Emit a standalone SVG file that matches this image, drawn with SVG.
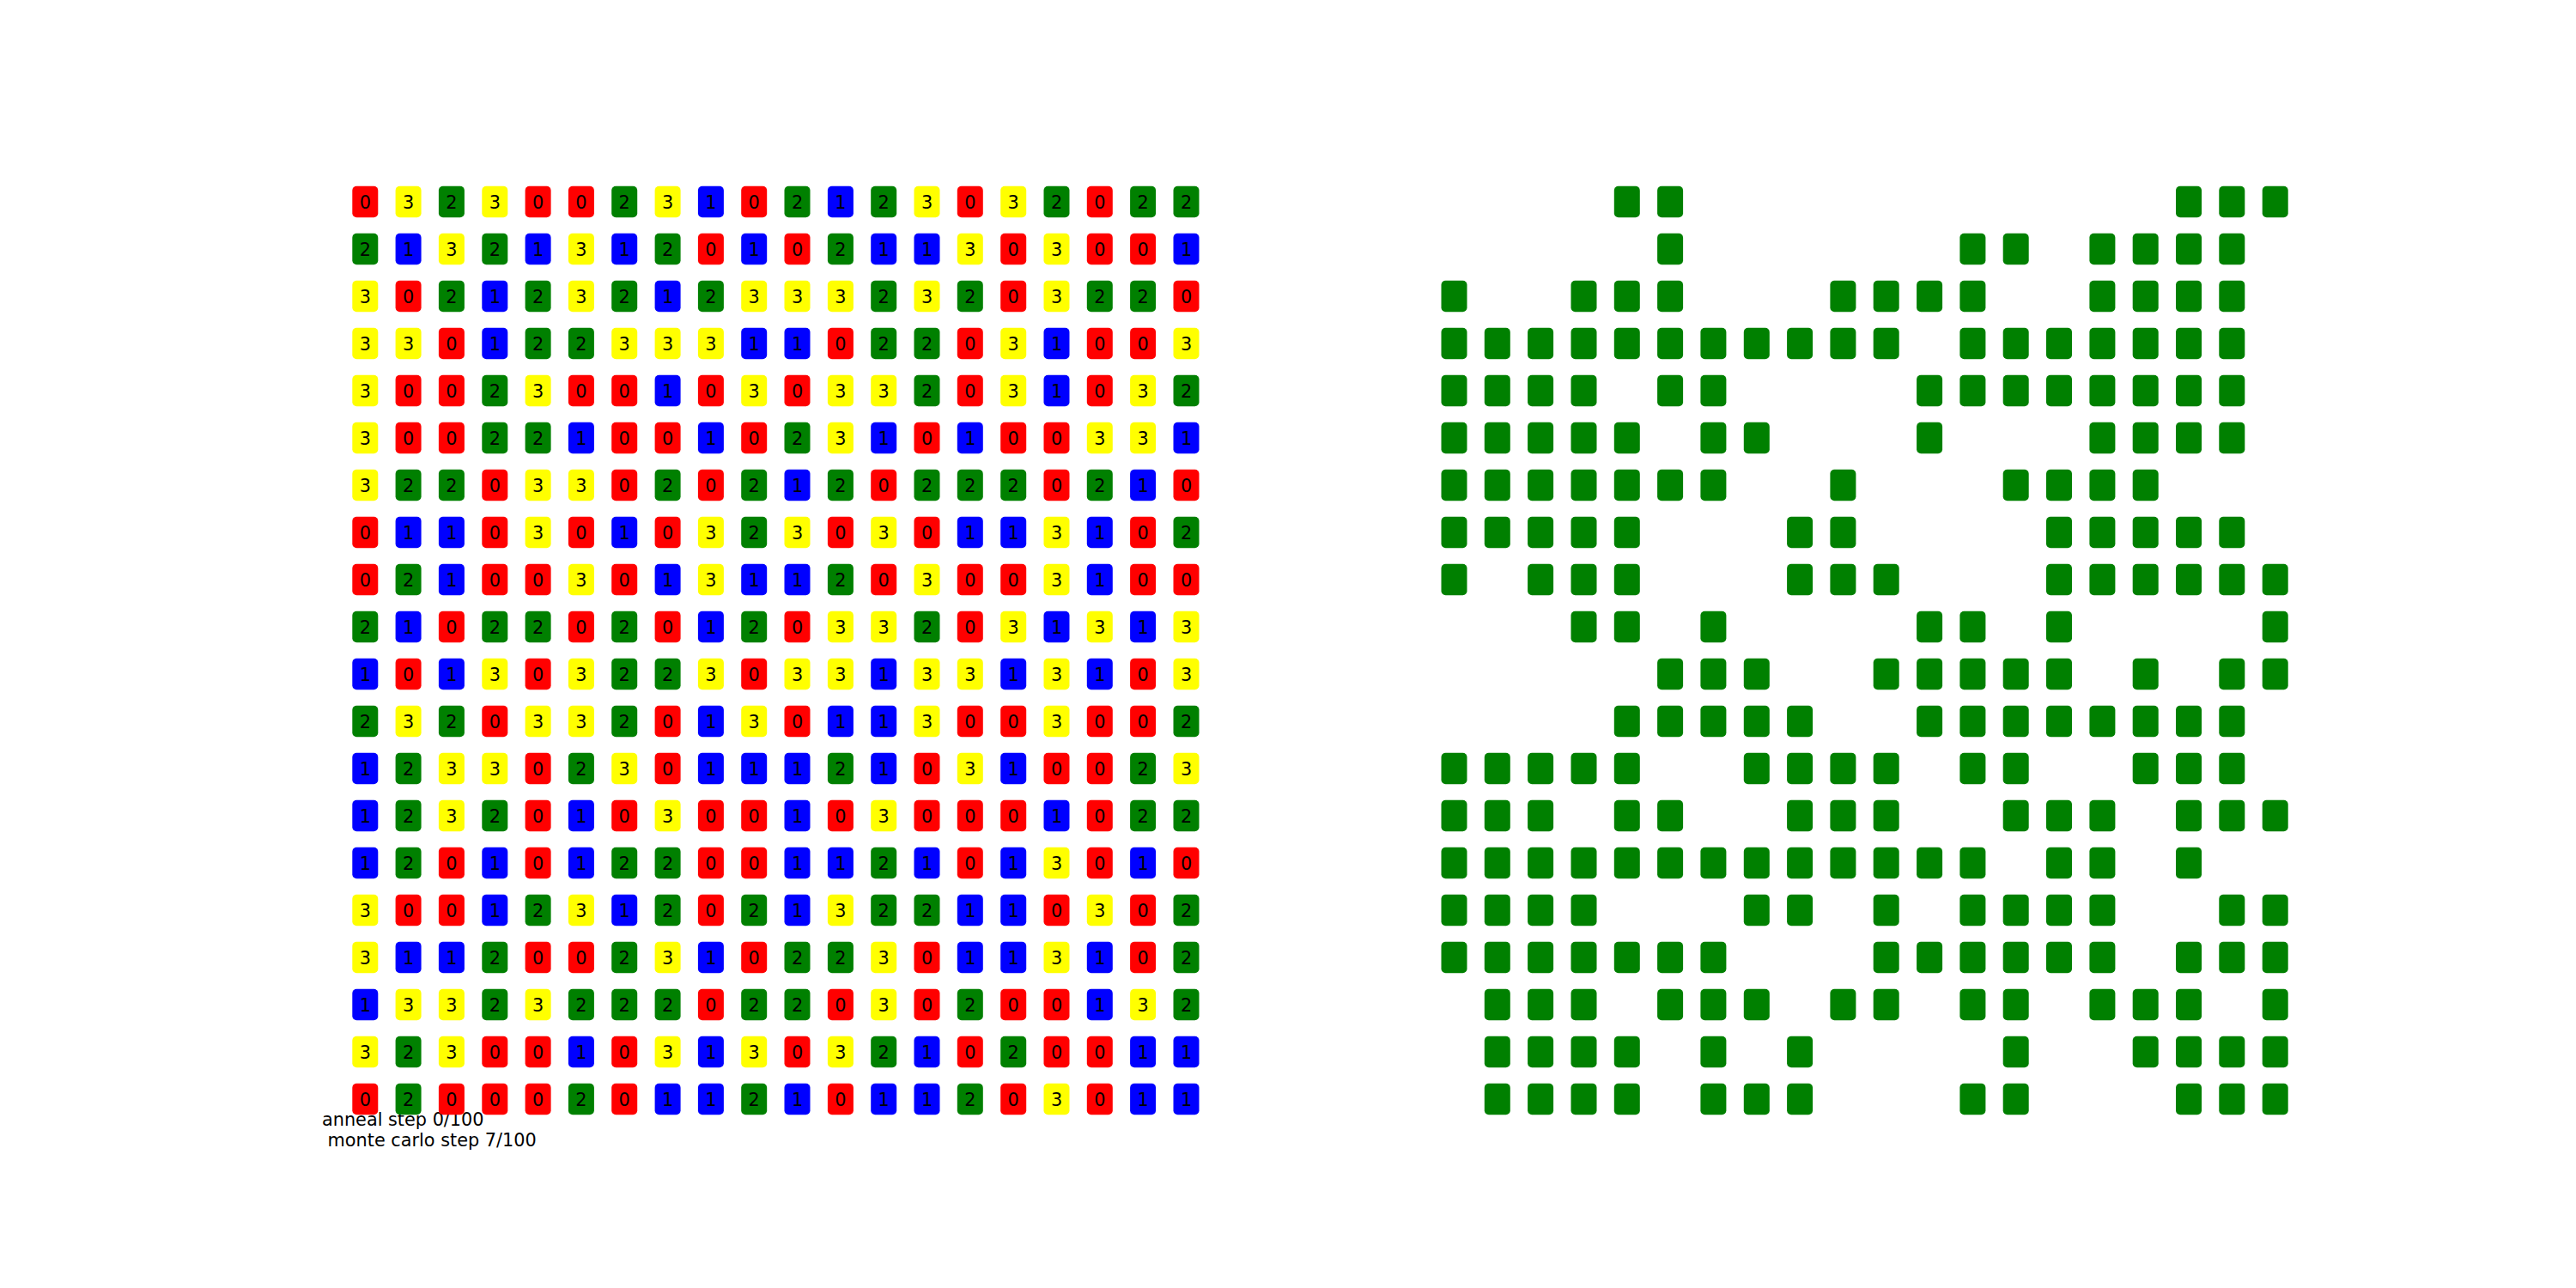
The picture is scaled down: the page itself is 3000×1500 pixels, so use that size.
<svg xmlns="http://www.w3.org/2000/svg" xmlns:xlink="http://www.w3.org/1999/xlink" width="3000" height="1500" viewBox="0 0 3000 1500">
<style>
.v0{fill:#ff0000}.v1{fill:#0000ff}.v2{fill:#008000}.v3{fill:#ffff00}
text{font-family:"DejaVu Sans","Liberation Sans",sans-serif;font-size:20.8px;fill:#000}
.cell text{text-anchor:middle}
</style>
<defs>
<rect id="k0" class="v0" x="-15" y="-18.25" width="30" height="36.5" rx="5"/>
<rect id="k1" class="v1" x="-15" y="-18.25" width="30" height="36.5" rx="5"/>
<rect id="k2" class="v2" x="-15" y="-18.25" width="30" height="36.5" rx="5"/>
<rect id="k3" class="v3" x="-15" y="-18.25" width="30" height="36.5" rx="5"/>
</defs>
<rect width="3000" height="1500" fill="#fff"/>
<g id="caption">
<text x="375" y="1311">anneal step 0/100</text>
<text x="381.6" y="1335">monte carlo step 7/100</text>
</g>
<g id="connectors"></g>
<g id="left" class="cell">
<g id="L0" transform="translate(0 235)">
<g id="a0-0" transform="translate(425.3 0)"><use href="#k0"/><text y="7.6">0</text></g>
<g id="a0-1" transform="translate(475.6 0)"><use href="#k3"/><text y="7.6">3</text></g>
<g id="a0-2" transform="translate(525.9 0)"><use href="#k2"/><text y="7.6">2</text></g>
<g id="a0-3" transform="translate(576.3 0)"><use href="#k3"/><text y="7.6">3</text></g>
<g id="a0-4" transform="translate(626.6 0)"><use href="#k0"/><text y="7.6">0</text></g>
<g id="a0-5" transform="translate(676.9 0)"><use href="#k0"/><text y="7.6">0</text></g>
<g id="a0-6" transform="translate(727.2 0)"><use href="#k2"/><text y="7.6">2</text></g>
<g id="a0-7" transform="translate(777.6 0)"><use href="#k3"/><text y="7.6">3</text></g>
<g id="a0-8" transform="translate(827.9 0)"><use href="#k1"/><text y="7.6">1</text></g>
<g id="a0-9" transform="translate(878.2 0)"><use href="#k0"/><text y="7.6">0</text></g>
<g id="a0-10" transform="translate(928.5 0)"><use href="#k2"/><text y="7.6">2</text></g>
<g id="a0-11" transform="translate(978.9 0)"><use href="#k1"/><text y="7.6">1</text></g>
<g id="a0-12" transform="translate(1029.2 0)"><use href="#k2"/><text y="7.6">2</text></g>
<g id="a0-13" transform="translate(1079.5 0)"><use href="#k3"/><text y="7.6">3</text></g>
<g id="a0-14" transform="translate(1129.8 0)"><use href="#k0"/><text y="7.6">0</text></g>
<g id="a0-15" transform="translate(1180.2 0)"><use href="#k3"/><text y="7.6">3</text></g>
<g id="a0-16" transform="translate(1230.5 0)"><use href="#k2"/><text y="7.6">2</text></g>
<g id="a0-17" transform="translate(1280.8 0)"><use href="#k0"/><text y="7.6">0</text></g>
<g id="a0-18" transform="translate(1331.1 0)"><use href="#k2"/><text y="7.6">2</text></g>
<g id="a0-19" transform="translate(1381.5 0)"><use href="#k2"/><text y="7.6">2</text></g>
</g>
<g id="L1" transform="translate(0 290)">
<g id="a1-0" transform="translate(425.3 0)"><use href="#k2"/><text y="7.6">2</text></g>
<g id="a1-1" transform="translate(475.6 0)"><use href="#k1"/><text y="7.6">1</text></g>
<g id="a1-2" transform="translate(525.9 0)"><use href="#k3"/><text y="7.6">3</text></g>
<g id="a1-3" transform="translate(576.3 0)"><use href="#k2"/><text y="7.6">2</text></g>
<g id="a1-4" transform="translate(626.6 0)"><use href="#k1"/><text y="7.6">1</text></g>
<g id="a1-5" transform="translate(676.9 0)"><use href="#k3"/><text y="7.6">3</text></g>
<g id="a1-6" transform="translate(727.2 0)"><use href="#k1"/><text y="7.6">1</text></g>
<g id="a1-7" transform="translate(777.6 0)"><use href="#k2"/><text y="7.6">2</text></g>
<g id="a1-8" transform="translate(827.9 0)"><use href="#k0"/><text y="7.6">0</text></g>
<g id="a1-9" transform="translate(878.2 0)"><use href="#k1"/><text y="7.6">1</text></g>
<g id="a1-10" transform="translate(928.5 0)"><use href="#k0"/><text y="7.6">0</text></g>
<g id="a1-11" transform="translate(978.9 0)"><use href="#k2"/><text y="7.6">2</text></g>
<g id="a1-12" transform="translate(1029.2 0)"><use href="#k1"/><text y="7.6">1</text></g>
<g id="a1-13" transform="translate(1079.5 0)"><use href="#k1"/><text y="7.6">1</text></g>
<g id="a1-14" transform="translate(1129.8 0)"><use href="#k3"/><text y="7.6">3</text></g>
<g id="a1-15" transform="translate(1180.2 0)"><use href="#k0"/><text y="7.6">0</text></g>
<g id="a1-16" transform="translate(1230.5 0)"><use href="#k3"/><text y="7.6">3</text></g>
<g id="a1-17" transform="translate(1280.8 0)"><use href="#k0"/><text y="7.6">0</text></g>
<g id="a1-18" transform="translate(1331.1 0)"><use href="#k0"/><text y="7.6">0</text></g>
<g id="a1-19" transform="translate(1381.5 0)"><use href="#k1"/><text y="7.6">1</text></g>
</g>
<g id="L2" transform="translate(0 345)">
<g id="a2-0" transform="translate(425.3 0)"><use href="#k3"/><text y="7.6">3</text></g>
<g id="a2-1" transform="translate(475.6 0)"><use href="#k0"/><text y="7.6">0</text></g>
<g id="a2-2" transform="translate(525.9 0)"><use href="#k2"/><text y="7.6">2</text></g>
<g id="a2-3" transform="translate(576.3 0)"><use href="#k1"/><text y="7.6">1</text></g>
<g id="a2-4" transform="translate(626.6 0)"><use href="#k2"/><text y="7.6">2</text></g>
<g id="a2-5" transform="translate(676.9 0)"><use href="#k3"/><text y="7.6">3</text></g>
<g id="a2-6" transform="translate(727.2 0)"><use href="#k2"/><text y="7.6">2</text></g>
<g id="a2-7" transform="translate(777.6 0)"><use href="#k1"/><text y="7.6">1</text></g>
<g id="a2-8" transform="translate(827.9 0)"><use href="#k2"/><text y="7.6">2</text></g>
<g id="a2-9" transform="translate(878.2 0)"><use href="#k3"/><text y="7.6">3</text></g>
<g id="a2-10" transform="translate(928.5 0)"><use href="#k3"/><text y="7.6">3</text></g>
<g id="a2-11" transform="translate(978.9 0)"><use href="#k3"/><text y="7.6">3</text></g>
<g id="a2-12" transform="translate(1029.2 0)"><use href="#k2"/><text y="7.6">2</text></g>
<g id="a2-13" transform="translate(1079.5 0)"><use href="#k3"/><text y="7.6">3</text></g>
<g id="a2-14" transform="translate(1129.8 0)"><use href="#k2"/><text y="7.6">2</text></g>
<g id="a2-15" transform="translate(1180.2 0)"><use href="#k0"/><text y="7.6">0</text></g>
<g id="a2-16" transform="translate(1230.5 0)"><use href="#k3"/><text y="7.6">3</text></g>
<g id="a2-17" transform="translate(1280.8 0)"><use href="#k2"/><text y="7.6">2</text></g>
<g id="a2-18" transform="translate(1331.1 0)"><use href="#k2"/><text y="7.6">2</text></g>
<g id="a2-19" transform="translate(1381.5 0)"><use href="#k0"/><text y="7.6">0</text></g>
</g>
<g id="L3" transform="translate(0 400)">
<g id="a3-0" transform="translate(425.3 0)"><use href="#k3"/><text y="7.6">3</text></g>
<g id="a3-1" transform="translate(475.6 0)"><use href="#k3"/><text y="7.6">3</text></g>
<g id="a3-2" transform="translate(525.9 0)"><use href="#k0"/><text y="7.6">0</text></g>
<g id="a3-3" transform="translate(576.3 0)"><use href="#k1"/><text y="7.6">1</text></g>
<g id="a3-4" transform="translate(626.6 0)"><use href="#k2"/><text y="7.6">2</text></g>
<g id="a3-5" transform="translate(676.9 0)"><use href="#k2"/><text y="7.6">2</text></g>
<g id="a3-6" transform="translate(727.2 0)"><use href="#k3"/><text y="7.6">3</text></g>
<g id="a3-7" transform="translate(777.6 0)"><use href="#k3"/><text y="7.6">3</text></g>
<g id="a3-8" transform="translate(827.9 0)"><use href="#k3"/><text y="7.6">3</text></g>
<g id="a3-9" transform="translate(878.2 0)"><use href="#k1"/><text y="7.6">1</text></g>
<g id="a3-10" transform="translate(928.5 0)"><use href="#k1"/><text y="7.6">1</text></g>
<g id="a3-11" transform="translate(978.9 0)"><use href="#k0"/><text y="7.6">0</text></g>
<g id="a3-12" transform="translate(1029.2 0)"><use href="#k2"/><text y="7.6">2</text></g>
<g id="a3-13" transform="translate(1079.5 0)"><use href="#k2"/><text y="7.6">2</text></g>
<g id="a3-14" transform="translate(1129.8 0)"><use href="#k0"/><text y="7.6">0</text></g>
<g id="a3-15" transform="translate(1180.2 0)"><use href="#k3"/><text y="7.6">3</text></g>
<g id="a3-16" transform="translate(1230.5 0)"><use href="#k1"/><text y="7.6">1</text></g>
<g id="a3-17" transform="translate(1280.8 0)"><use href="#k0"/><text y="7.6">0</text></g>
<g id="a3-18" transform="translate(1331.1 0)"><use href="#k0"/><text y="7.6">0</text></g>
<g id="a3-19" transform="translate(1381.5 0)"><use href="#k3"/><text y="7.6">3</text></g>
</g>
<g id="L4" transform="translate(0 455)">
<g id="a4-0" transform="translate(425.3 0)"><use href="#k3"/><text y="7.6">3</text></g>
<g id="a4-1" transform="translate(475.6 0)"><use href="#k0"/><text y="7.6">0</text></g>
<g id="a4-2" transform="translate(525.9 0)"><use href="#k0"/><text y="7.6">0</text></g>
<g id="a4-3" transform="translate(576.3 0)"><use href="#k2"/><text y="7.6">2</text></g>
<g id="a4-4" transform="translate(626.6 0)"><use href="#k3"/><text y="7.6">3</text></g>
<g id="a4-5" transform="translate(676.9 0)"><use href="#k0"/><text y="7.6">0</text></g>
<g id="a4-6" transform="translate(727.2 0)"><use href="#k0"/><text y="7.6">0</text></g>
<g id="a4-7" transform="translate(777.6 0)"><use href="#k1"/><text y="7.6">1</text></g>
<g id="a4-8" transform="translate(827.9 0)"><use href="#k0"/><text y="7.6">0</text></g>
<g id="a4-9" transform="translate(878.2 0)"><use href="#k3"/><text y="7.6">3</text></g>
<g id="a4-10" transform="translate(928.5 0)"><use href="#k0"/><text y="7.6">0</text></g>
<g id="a4-11" transform="translate(978.9 0)"><use href="#k3"/><text y="7.6">3</text></g>
<g id="a4-12" transform="translate(1029.2 0)"><use href="#k3"/><text y="7.6">3</text></g>
<g id="a4-13" transform="translate(1079.5 0)"><use href="#k2"/><text y="7.6">2</text></g>
<g id="a4-14" transform="translate(1129.8 0)"><use href="#k0"/><text y="7.6">0</text></g>
<g id="a4-15" transform="translate(1180.2 0)"><use href="#k3"/><text y="7.6">3</text></g>
<g id="a4-16" transform="translate(1230.5 0)"><use href="#k1"/><text y="7.6">1</text></g>
<g id="a4-17" transform="translate(1280.8 0)"><use href="#k0"/><text y="7.6">0</text></g>
<g id="a4-18" transform="translate(1331.1 0)"><use href="#k3"/><text y="7.6">3</text></g>
<g id="a4-19" transform="translate(1381.5 0)"><use href="#k2"/><text y="7.6">2</text></g>
</g>
<g id="L5" transform="translate(0 510)">
<g id="a5-0" transform="translate(425.3 0)"><use href="#k3"/><text y="7.6">3</text></g>
<g id="a5-1" transform="translate(475.6 0)"><use href="#k0"/><text y="7.6">0</text></g>
<g id="a5-2" transform="translate(525.9 0)"><use href="#k0"/><text y="7.6">0</text></g>
<g id="a5-3" transform="translate(576.3 0)"><use href="#k2"/><text y="7.6">2</text></g>
<g id="a5-4" transform="translate(626.6 0)"><use href="#k2"/><text y="7.6">2</text></g>
<g id="a5-5" transform="translate(676.9 0)"><use href="#k1"/><text y="7.6">1</text></g>
<g id="a5-6" transform="translate(727.2 0)"><use href="#k0"/><text y="7.6">0</text></g>
<g id="a5-7" transform="translate(777.6 0)"><use href="#k0"/><text y="7.6">0</text></g>
<g id="a5-8" transform="translate(827.9 0)"><use href="#k1"/><text y="7.6">1</text></g>
<g id="a5-9" transform="translate(878.2 0)"><use href="#k0"/><text y="7.6">0</text></g>
<g id="a5-10" transform="translate(928.5 0)"><use href="#k2"/><text y="7.6">2</text></g>
<g id="a5-11" transform="translate(978.9 0)"><use href="#k3"/><text y="7.6">3</text></g>
<g id="a5-12" transform="translate(1029.2 0)"><use href="#k1"/><text y="7.6">1</text></g>
<g id="a5-13" transform="translate(1079.5 0)"><use href="#k0"/><text y="7.6">0</text></g>
<g id="a5-14" transform="translate(1129.8 0)"><use href="#k1"/><text y="7.6">1</text></g>
<g id="a5-15" transform="translate(1180.2 0)"><use href="#k0"/><text y="7.6">0</text></g>
<g id="a5-16" transform="translate(1230.5 0)"><use href="#k0"/><text y="7.6">0</text></g>
<g id="a5-17" transform="translate(1280.8 0)"><use href="#k3"/><text y="7.6">3</text></g>
<g id="a5-18" transform="translate(1331.1 0)"><use href="#k3"/><text y="7.6">3</text></g>
<g id="a5-19" transform="translate(1381.5 0)"><use href="#k1"/><text y="7.6">1</text></g>
</g>
<g id="L6" transform="translate(0 565)">
<g id="a6-0" transform="translate(425.3 0)"><use href="#k3"/><text y="7.6">3</text></g>
<g id="a6-1" transform="translate(475.6 0)"><use href="#k2"/><text y="7.6">2</text></g>
<g id="a6-2" transform="translate(525.9 0)"><use href="#k2"/><text y="7.6">2</text></g>
<g id="a6-3" transform="translate(576.3 0)"><use href="#k0"/><text y="7.6">0</text></g>
<g id="a6-4" transform="translate(626.6 0)"><use href="#k3"/><text y="7.6">3</text></g>
<g id="a6-5" transform="translate(676.9 0)"><use href="#k3"/><text y="7.6">3</text></g>
<g id="a6-6" transform="translate(727.2 0)"><use href="#k0"/><text y="7.6">0</text></g>
<g id="a6-7" transform="translate(777.6 0)"><use href="#k2"/><text y="7.6">2</text></g>
<g id="a6-8" transform="translate(827.9 0)"><use href="#k0"/><text y="7.6">0</text></g>
<g id="a6-9" transform="translate(878.2 0)"><use href="#k2"/><text y="7.6">2</text></g>
<g id="a6-10" transform="translate(928.5 0)"><use href="#k1"/><text y="7.6">1</text></g>
<g id="a6-11" transform="translate(978.9 0)"><use href="#k2"/><text y="7.6">2</text></g>
<g id="a6-12" transform="translate(1029.2 0)"><use href="#k0"/><text y="7.6">0</text></g>
<g id="a6-13" transform="translate(1079.5 0)"><use href="#k2"/><text y="7.6">2</text></g>
<g id="a6-14" transform="translate(1129.8 0)"><use href="#k2"/><text y="7.6">2</text></g>
<g id="a6-15" transform="translate(1180.2 0)"><use href="#k2"/><text y="7.6">2</text></g>
<g id="a6-16" transform="translate(1230.5 0)"><use href="#k0"/><text y="7.6">0</text></g>
<g id="a6-17" transform="translate(1280.8 0)"><use href="#k2"/><text y="7.6">2</text></g>
<g id="a6-18" transform="translate(1331.1 0)"><use href="#k1"/><text y="7.6">1</text></g>
<g id="a6-19" transform="translate(1381.5 0)"><use href="#k0"/><text y="7.6">0</text></g>
</g>
<g id="L7" transform="translate(0 620)">
<g id="a7-0" transform="translate(425.3 0)"><use href="#k0"/><text y="7.6">0</text></g>
<g id="a7-1" transform="translate(475.6 0)"><use href="#k1"/><text y="7.6">1</text></g>
<g id="a7-2" transform="translate(525.9 0)"><use href="#k1"/><text y="7.6">1</text></g>
<g id="a7-3" transform="translate(576.3 0)"><use href="#k0"/><text y="7.6">0</text></g>
<g id="a7-4" transform="translate(626.6 0)"><use href="#k3"/><text y="7.6">3</text></g>
<g id="a7-5" transform="translate(676.9 0)"><use href="#k0"/><text y="7.6">0</text></g>
<g id="a7-6" transform="translate(727.2 0)"><use href="#k1"/><text y="7.6">1</text></g>
<g id="a7-7" transform="translate(777.6 0)"><use href="#k0"/><text y="7.6">0</text></g>
<g id="a7-8" transform="translate(827.9 0)"><use href="#k3"/><text y="7.6">3</text></g>
<g id="a7-9" transform="translate(878.2 0)"><use href="#k2"/><text y="7.6">2</text></g>
<g id="a7-10" transform="translate(928.5 0)"><use href="#k3"/><text y="7.6">3</text></g>
<g id="a7-11" transform="translate(978.9 0)"><use href="#k0"/><text y="7.6">0</text></g>
<g id="a7-12" transform="translate(1029.2 0)"><use href="#k3"/><text y="7.6">3</text></g>
<g id="a7-13" transform="translate(1079.5 0)"><use href="#k0"/><text y="7.6">0</text></g>
<g id="a7-14" transform="translate(1129.8 0)"><use href="#k1"/><text y="7.6">1</text></g>
<g id="a7-15" transform="translate(1180.2 0)"><use href="#k1"/><text y="7.6">1</text></g>
<g id="a7-16" transform="translate(1230.5 0)"><use href="#k3"/><text y="7.6">3</text></g>
<g id="a7-17" transform="translate(1280.8 0)"><use href="#k1"/><text y="7.6">1</text></g>
<g id="a7-18" transform="translate(1331.1 0)"><use href="#k0"/><text y="7.6">0</text></g>
<g id="a7-19" transform="translate(1381.5 0)"><use href="#k2"/><text y="7.6">2</text></g>
</g>
<g id="L8" transform="translate(0 675)">
<g id="a8-0" transform="translate(425.3 0)"><use href="#k0"/><text y="7.6">0</text></g>
<g id="a8-1" transform="translate(475.6 0)"><use href="#k2"/><text y="7.6">2</text></g>
<g id="a8-2" transform="translate(525.9 0)"><use href="#k1"/><text y="7.6">1</text></g>
<g id="a8-3" transform="translate(576.3 0)"><use href="#k0"/><text y="7.6">0</text></g>
<g id="a8-4" transform="translate(626.6 0)"><use href="#k0"/><text y="7.6">0</text></g>
<g id="a8-5" transform="translate(676.9 0)"><use href="#k3"/><text y="7.6">3</text></g>
<g id="a8-6" transform="translate(727.2 0)"><use href="#k0"/><text y="7.6">0</text></g>
<g id="a8-7" transform="translate(777.6 0)"><use href="#k1"/><text y="7.6">1</text></g>
<g id="a8-8" transform="translate(827.9 0)"><use href="#k3"/><text y="7.6">3</text></g>
<g id="a8-9" transform="translate(878.2 0)"><use href="#k1"/><text y="7.6">1</text></g>
<g id="a8-10" transform="translate(928.5 0)"><use href="#k1"/><text y="7.6">1</text></g>
<g id="a8-11" transform="translate(978.9 0)"><use href="#k2"/><text y="7.6">2</text></g>
<g id="a8-12" transform="translate(1029.2 0)"><use href="#k0"/><text y="7.6">0</text></g>
<g id="a8-13" transform="translate(1079.5 0)"><use href="#k3"/><text y="7.6">3</text></g>
<g id="a8-14" transform="translate(1129.8 0)"><use href="#k0"/><text y="7.6">0</text></g>
<g id="a8-15" transform="translate(1180.2 0)"><use href="#k0"/><text y="7.6">0</text></g>
<g id="a8-16" transform="translate(1230.5 0)"><use href="#k3"/><text y="7.6">3</text></g>
<g id="a8-17" transform="translate(1280.8 0)"><use href="#k1"/><text y="7.6">1</text></g>
<g id="a8-18" transform="translate(1331.1 0)"><use href="#k0"/><text y="7.6">0</text></g>
<g id="a8-19" transform="translate(1381.5 0)"><use href="#k0"/><text y="7.6">0</text></g>
</g>
<g id="L9" transform="translate(0 730)">
<g id="a9-0" transform="translate(425.3 0)"><use href="#k2"/><text y="7.6">2</text></g>
<g id="a9-1" transform="translate(475.6 0)"><use href="#k1"/><text y="7.6">1</text></g>
<g id="a9-2" transform="translate(525.9 0)"><use href="#k0"/><text y="7.6">0</text></g>
<g id="a9-3" transform="translate(576.3 0)"><use href="#k2"/><text y="7.6">2</text></g>
<g id="a9-4" transform="translate(626.6 0)"><use href="#k2"/><text y="7.6">2</text></g>
<g id="a9-5" transform="translate(676.9 0)"><use href="#k0"/><text y="7.6">0</text></g>
<g id="a9-6" transform="translate(727.2 0)"><use href="#k2"/><text y="7.6">2</text></g>
<g id="a9-7" transform="translate(777.6 0)"><use href="#k0"/><text y="7.6">0</text></g>
<g id="a9-8" transform="translate(827.9 0)"><use href="#k1"/><text y="7.6">1</text></g>
<g id="a9-9" transform="translate(878.2 0)"><use href="#k2"/><text y="7.6">2</text></g>
<g id="a9-10" transform="translate(928.5 0)"><use href="#k0"/><text y="7.6">0</text></g>
<g id="a9-11" transform="translate(978.9 0)"><use href="#k3"/><text y="7.6">3</text></g>
<g id="a9-12" transform="translate(1029.2 0)"><use href="#k3"/><text y="7.6">3</text></g>
<g id="a9-13" transform="translate(1079.5 0)"><use href="#k2"/><text y="7.6">2</text></g>
<g id="a9-14" transform="translate(1129.8 0)"><use href="#k0"/><text y="7.6">0</text></g>
<g id="a9-15" transform="translate(1180.2 0)"><use href="#k3"/><text y="7.6">3</text></g>
<g id="a9-16" transform="translate(1230.5 0)"><use href="#k1"/><text y="7.6">1</text></g>
<g id="a9-17" transform="translate(1280.8 0)"><use href="#k3"/><text y="7.6">3</text></g>
<g id="a9-18" transform="translate(1331.1 0)"><use href="#k1"/><text y="7.6">1</text></g>
<g id="a9-19" transform="translate(1381.5 0)"><use href="#k3"/><text y="7.6">3</text></g>
</g>
<g id="L10" transform="translate(0 785)">
<g id="a10-0" transform="translate(425.3 0)"><use href="#k1"/><text y="7.6">1</text></g>
<g id="a10-1" transform="translate(475.6 0)"><use href="#k0"/><text y="7.6">0</text></g>
<g id="a10-2" transform="translate(525.9 0)"><use href="#k1"/><text y="7.6">1</text></g>
<g id="a10-3" transform="translate(576.3 0)"><use href="#k3"/><text y="7.6">3</text></g>
<g id="a10-4" transform="translate(626.6 0)"><use href="#k0"/><text y="7.6">0</text></g>
<g id="a10-5" transform="translate(676.9 0)"><use href="#k3"/><text y="7.6">3</text></g>
<g id="a10-6" transform="translate(727.2 0)"><use href="#k2"/><text y="7.6">2</text></g>
<g id="a10-7" transform="translate(777.6 0)"><use href="#k2"/><text y="7.6">2</text></g>
<g id="a10-8" transform="translate(827.9 0)"><use href="#k3"/><text y="7.6">3</text></g>
<g id="a10-9" transform="translate(878.2 0)"><use href="#k0"/><text y="7.6">0</text></g>
<g id="a10-10" transform="translate(928.5 0)"><use href="#k3"/><text y="7.6">3</text></g>
<g id="a10-11" transform="translate(978.9 0)"><use href="#k3"/><text y="7.6">3</text></g>
<g id="a10-12" transform="translate(1029.2 0)"><use href="#k1"/><text y="7.6">1</text></g>
<g id="a10-13" transform="translate(1079.5 0)"><use href="#k3"/><text y="7.6">3</text></g>
<g id="a10-14" transform="translate(1129.8 0)"><use href="#k3"/><text y="7.6">3</text></g>
<g id="a10-15" transform="translate(1180.2 0)"><use href="#k1"/><text y="7.6">1</text></g>
<g id="a10-16" transform="translate(1230.5 0)"><use href="#k3"/><text y="7.6">3</text></g>
<g id="a10-17" transform="translate(1280.8 0)"><use href="#k1"/><text y="7.6">1</text></g>
<g id="a10-18" transform="translate(1331.1 0)"><use href="#k0"/><text y="7.6">0</text></g>
<g id="a10-19" transform="translate(1381.5 0)"><use href="#k3"/><text y="7.6">3</text></g>
</g>
<g id="L11" transform="translate(0 840)">
<g id="a11-0" transform="translate(425.3 0)"><use href="#k2"/><text y="7.6">2</text></g>
<g id="a11-1" transform="translate(475.6 0)"><use href="#k3"/><text y="7.6">3</text></g>
<g id="a11-2" transform="translate(525.9 0)"><use href="#k2"/><text y="7.6">2</text></g>
<g id="a11-3" transform="translate(576.3 0)"><use href="#k0"/><text y="7.6">0</text></g>
<g id="a11-4" transform="translate(626.6 0)"><use href="#k3"/><text y="7.6">3</text></g>
<g id="a11-5" transform="translate(676.9 0)"><use href="#k3"/><text y="7.6">3</text></g>
<g id="a11-6" transform="translate(727.2 0)"><use href="#k2"/><text y="7.6">2</text></g>
<g id="a11-7" transform="translate(777.6 0)"><use href="#k0"/><text y="7.6">0</text></g>
<g id="a11-8" transform="translate(827.9 0)"><use href="#k1"/><text y="7.6">1</text></g>
<g id="a11-9" transform="translate(878.2 0)"><use href="#k3"/><text y="7.6">3</text></g>
<g id="a11-10" transform="translate(928.5 0)"><use href="#k0"/><text y="7.6">0</text></g>
<g id="a11-11" transform="translate(978.9 0)"><use href="#k1"/><text y="7.6">1</text></g>
<g id="a11-12" transform="translate(1029.2 0)"><use href="#k1"/><text y="7.6">1</text></g>
<g id="a11-13" transform="translate(1079.5 0)"><use href="#k3"/><text y="7.6">3</text></g>
<g id="a11-14" transform="translate(1129.8 0)"><use href="#k0"/><text y="7.6">0</text></g>
<g id="a11-15" transform="translate(1180.2 0)"><use href="#k0"/><text y="7.6">0</text></g>
<g id="a11-16" transform="translate(1230.5 0)"><use href="#k3"/><text y="7.6">3</text></g>
<g id="a11-17" transform="translate(1280.8 0)"><use href="#k0"/><text y="7.6">0</text></g>
<g id="a11-18" transform="translate(1331.1 0)"><use href="#k0"/><text y="7.6">0</text></g>
<g id="a11-19" transform="translate(1381.5 0)"><use href="#k2"/><text y="7.6">2</text></g>
</g>
<g id="L12" transform="translate(0 895)">
<g id="a12-0" transform="translate(425.3 0)"><use href="#k1"/><text y="7.6">1</text></g>
<g id="a12-1" transform="translate(475.6 0)"><use href="#k2"/><text y="7.6">2</text></g>
<g id="a12-2" transform="translate(525.9 0)"><use href="#k3"/><text y="7.6">3</text></g>
<g id="a12-3" transform="translate(576.3 0)"><use href="#k3"/><text y="7.6">3</text></g>
<g id="a12-4" transform="translate(626.6 0)"><use href="#k0"/><text y="7.6">0</text></g>
<g id="a12-5" transform="translate(676.9 0)"><use href="#k2"/><text y="7.6">2</text></g>
<g id="a12-6" transform="translate(727.2 0)"><use href="#k3"/><text y="7.6">3</text></g>
<g id="a12-7" transform="translate(777.6 0)"><use href="#k0"/><text y="7.6">0</text></g>
<g id="a12-8" transform="translate(827.9 0)"><use href="#k1"/><text y="7.6">1</text></g>
<g id="a12-9" transform="translate(878.2 0)"><use href="#k1"/><text y="7.6">1</text></g>
<g id="a12-10" transform="translate(928.5 0)"><use href="#k1"/><text y="7.6">1</text></g>
<g id="a12-11" transform="translate(978.9 0)"><use href="#k2"/><text y="7.6">2</text></g>
<g id="a12-12" transform="translate(1029.2 0)"><use href="#k1"/><text y="7.6">1</text></g>
<g id="a12-13" transform="translate(1079.5 0)"><use href="#k0"/><text y="7.6">0</text></g>
<g id="a12-14" transform="translate(1129.8 0)"><use href="#k3"/><text y="7.6">3</text></g>
<g id="a12-15" transform="translate(1180.2 0)"><use href="#k1"/><text y="7.6">1</text></g>
<g id="a12-16" transform="translate(1230.5 0)"><use href="#k0"/><text y="7.6">0</text></g>
<g id="a12-17" transform="translate(1280.8 0)"><use href="#k0"/><text y="7.6">0</text></g>
<g id="a12-18" transform="translate(1331.1 0)"><use href="#k2"/><text y="7.6">2</text></g>
<g id="a12-19" transform="translate(1381.5 0)"><use href="#k3"/><text y="7.6">3</text></g>
</g>
<g id="L13" transform="translate(0 950)">
<g id="a13-0" transform="translate(425.3 0)"><use href="#k1"/><text y="7.6">1</text></g>
<g id="a13-1" transform="translate(475.6 0)"><use href="#k2"/><text y="7.6">2</text></g>
<g id="a13-2" transform="translate(525.9 0)"><use href="#k3"/><text y="7.6">3</text></g>
<g id="a13-3" transform="translate(576.3 0)"><use href="#k2"/><text y="7.6">2</text></g>
<g id="a13-4" transform="translate(626.6 0)"><use href="#k0"/><text y="7.6">0</text></g>
<g id="a13-5" transform="translate(676.9 0)"><use href="#k1"/><text y="7.6">1</text></g>
<g id="a13-6" transform="translate(727.2 0)"><use href="#k0"/><text y="7.6">0</text></g>
<g id="a13-7" transform="translate(777.6 0)"><use href="#k3"/><text y="7.6">3</text></g>
<g id="a13-8" transform="translate(827.9 0)"><use href="#k0"/><text y="7.6">0</text></g>
<g id="a13-9" transform="translate(878.2 0)"><use href="#k0"/><text y="7.6">0</text></g>
<g id="a13-10" transform="translate(928.5 0)"><use href="#k1"/><text y="7.6">1</text></g>
<g id="a13-11" transform="translate(978.9 0)"><use href="#k0"/><text y="7.6">0</text></g>
<g id="a13-12" transform="translate(1029.2 0)"><use href="#k3"/><text y="7.6">3</text></g>
<g id="a13-13" transform="translate(1079.5 0)"><use href="#k0"/><text y="7.6">0</text></g>
<g id="a13-14" transform="translate(1129.8 0)"><use href="#k0"/><text y="7.6">0</text></g>
<g id="a13-15" transform="translate(1180.2 0)"><use href="#k0"/><text y="7.6">0</text></g>
<g id="a13-16" transform="translate(1230.5 0)"><use href="#k1"/><text y="7.6">1</text></g>
<g id="a13-17" transform="translate(1280.8 0)"><use href="#k0"/><text y="7.6">0</text></g>
<g id="a13-18" transform="translate(1331.1 0)"><use href="#k2"/><text y="7.6">2</text></g>
<g id="a13-19" transform="translate(1381.5 0)"><use href="#k2"/><text y="7.6">2</text></g>
</g>
<g id="L14" transform="translate(0 1005)">
<g id="a14-0" transform="translate(425.3 0)"><use href="#k1"/><text y="7.6">1</text></g>
<g id="a14-1" transform="translate(475.6 0)"><use href="#k2"/><text y="7.6">2</text></g>
<g id="a14-2" transform="translate(525.9 0)"><use href="#k0"/><text y="7.6">0</text></g>
<g id="a14-3" transform="translate(576.3 0)"><use href="#k1"/><text y="7.6">1</text></g>
<g id="a14-4" transform="translate(626.6 0)"><use href="#k0"/><text y="7.6">0</text></g>
<g id="a14-5" transform="translate(676.9 0)"><use href="#k1"/><text y="7.6">1</text></g>
<g id="a14-6" transform="translate(727.2 0)"><use href="#k2"/><text y="7.6">2</text></g>
<g id="a14-7" transform="translate(777.6 0)"><use href="#k2"/><text y="7.6">2</text></g>
<g id="a14-8" transform="translate(827.9 0)"><use href="#k0"/><text y="7.6">0</text></g>
<g id="a14-9" transform="translate(878.2 0)"><use href="#k0"/><text y="7.6">0</text></g>
<g id="a14-10" transform="translate(928.5 0)"><use href="#k1"/><text y="7.6">1</text></g>
<g id="a14-11" transform="translate(978.9 0)"><use href="#k1"/><text y="7.6">1</text></g>
<g id="a14-12" transform="translate(1029.2 0)"><use href="#k2"/><text y="7.6">2</text></g>
<g id="a14-13" transform="translate(1079.5 0)"><use href="#k1"/><text y="7.6">1</text></g>
<g id="a14-14" transform="translate(1129.8 0)"><use href="#k0"/><text y="7.6">0</text></g>
<g id="a14-15" transform="translate(1180.2 0)"><use href="#k1"/><text y="7.6">1</text></g>
<g id="a14-16" transform="translate(1230.5 0)"><use href="#k3"/><text y="7.6">3</text></g>
<g id="a14-17" transform="translate(1280.8 0)"><use href="#k0"/><text y="7.6">0</text></g>
<g id="a14-18" transform="translate(1331.1 0)"><use href="#k1"/><text y="7.6">1</text></g>
<g id="a14-19" transform="translate(1381.5 0)"><use href="#k0"/><text y="7.6">0</text></g>
</g>
<g id="L15" transform="translate(0 1060)">
<g id="a15-0" transform="translate(425.3 0)"><use href="#k3"/><text y="7.6">3</text></g>
<g id="a15-1" transform="translate(475.6 0)"><use href="#k0"/><text y="7.6">0</text></g>
<g id="a15-2" transform="translate(525.9 0)"><use href="#k0"/><text y="7.6">0</text></g>
<g id="a15-3" transform="translate(576.3 0)"><use href="#k1"/><text y="7.6">1</text></g>
<g id="a15-4" transform="translate(626.6 0)"><use href="#k2"/><text y="7.6">2</text></g>
<g id="a15-5" transform="translate(676.9 0)"><use href="#k3"/><text y="7.6">3</text></g>
<g id="a15-6" transform="translate(727.2 0)"><use href="#k1"/><text y="7.6">1</text></g>
<g id="a15-7" transform="translate(777.6 0)"><use href="#k2"/><text y="7.6">2</text></g>
<g id="a15-8" transform="translate(827.9 0)"><use href="#k0"/><text y="7.6">0</text></g>
<g id="a15-9" transform="translate(878.2 0)"><use href="#k2"/><text y="7.6">2</text></g>
<g id="a15-10" transform="translate(928.5 0)"><use href="#k1"/><text y="7.6">1</text></g>
<g id="a15-11" transform="translate(978.9 0)"><use href="#k3"/><text y="7.6">3</text></g>
<g id="a15-12" transform="translate(1029.2 0)"><use href="#k2"/><text y="7.6">2</text></g>
<g id="a15-13" transform="translate(1079.5 0)"><use href="#k2"/><text y="7.6">2</text></g>
<g id="a15-14" transform="translate(1129.8 0)"><use href="#k1"/><text y="7.6">1</text></g>
<g id="a15-15" transform="translate(1180.2 0)"><use href="#k1"/><text y="7.6">1</text></g>
<g id="a15-16" transform="translate(1230.5 0)"><use href="#k0"/><text y="7.6">0</text></g>
<g id="a15-17" transform="translate(1280.8 0)"><use href="#k3"/><text y="7.6">3</text></g>
<g id="a15-18" transform="translate(1331.1 0)"><use href="#k0"/><text y="7.6">0</text></g>
<g id="a15-19" transform="translate(1381.5 0)"><use href="#k2"/><text y="7.6">2</text></g>
</g>
<g id="L16" transform="translate(0 1115)">
<g id="a16-0" transform="translate(425.3 0)"><use href="#k3"/><text y="7.6">3</text></g>
<g id="a16-1" transform="translate(475.6 0)"><use href="#k1"/><text y="7.6">1</text></g>
<g id="a16-2" transform="translate(525.9 0)"><use href="#k1"/><text y="7.6">1</text></g>
<g id="a16-3" transform="translate(576.3 0)"><use href="#k2"/><text y="7.6">2</text></g>
<g id="a16-4" transform="translate(626.6 0)"><use href="#k0"/><text y="7.6">0</text></g>
<g id="a16-5" transform="translate(676.9 0)"><use href="#k0"/><text y="7.6">0</text></g>
<g id="a16-6" transform="translate(727.2 0)"><use href="#k2"/><text y="7.6">2</text></g>
<g id="a16-7" transform="translate(777.6 0)"><use href="#k3"/><text y="7.6">3</text></g>
<g id="a16-8" transform="translate(827.9 0)"><use href="#k1"/><text y="7.6">1</text></g>
<g id="a16-9" transform="translate(878.2 0)"><use href="#k0"/><text y="7.6">0</text></g>
<g id="a16-10" transform="translate(928.5 0)"><use href="#k2"/><text y="7.6">2</text></g>
<g id="a16-11" transform="translate(978.9 0)"><use href="#k2"/><text y="7.6">2</text></g>
<g id="a16-12" transform="translate(1029.2 0)"><use href="#k3"/><text y="7.6">3</text></g>
<g id="a16-13" transform="translate(1079.5 0)"><use href="#k0"/><text y="7.6">0</text></g>
<g id="a16-14" transform="translate(1129.8 0)"><use href="#k1"/><text y="7.6">1</text></g>
<g id="a16-15" transform="translate(1180.2 0)"><use href="#k1"/><text y="7.6">1</text></g>
<g id="a16-16" transform="translate(1230.5 0)"><use href="#k3"/><text y="7.6">3</text></g>
<g id="a16-17" transform="translate(1280.8 0)"><use href="#k1"/><text y="7.6">1</text></g>
<g id="a16-18" transform="translate(1331.1 0)"><use href="#k0"/><text y="7.6">0</text></g>
<g id="a16-19" transform="translate(1381.5 0)"><use href="#k2"/><text y="7.6">2</text></g>
</g>
<g id="L17" transform="translate(0 1170)">
<g id="a17-0" transform="translate(425.3 0)"><use href="#k1"/><text y="7.6">1</text></g>
<g id="a17-1" transform="translate(475.6 0)"><use href="#k3"/><text y="7.6">3</text></g>
<g id="a17-2" transform="translate(525.9 0)"><use href="#k3"/><text y="7.6">3</text></g>
<g id="a17-3" transform="translate(576.3 0)"><use href="#k2"/><text y="7.6">2</text></g>
<g id="a17-4" transform="translate(626.6 0)"><use href="#k3"/><text y="7.6">3</text></g>
<g id="a17-5" transform="translate(676.9 0)"><use href="#k2"/><text y="7.6">2</text></g>
<g id="a17-6" transform="translate(727.2 0)"><use href="#k2"/><text y="7.6">2</text></g>
<g id="a17-7" transform="translate(777.6 0)"><use href="#k2"/><text y="7.6">2</text></g>
<g id="a17-8" transform="translate(827.9 0)"><use href="#k0"/><text y="7.6">0</text></g>
<g id="a17-9" transform="translate(878.2 0)"><use href="#k2"/><text y="7.6">2</text></g>
<g id="a17-10" transform="translate(928.5 0)"><use href="#k2"/><text y="7.6">2</text></g>
<g id="a17-11" transform="translate(978.9 0)"><use href="#k0"/><text y="7.6">0</text></g>
<g id="a17-12" transform="translate(1029.2 0)"><use href="#k3"/><text y="7.6">3</text></g>
<g id="a17-13" transform="translate(1079.5 0)"><use href="#k0"/><text y="7.6">0</text></g>
<g id="a17-14" transform="translate(1129.8 0)"><use href="#k2"/><text y="7.6">2</text></g>
<g id="a17-15" transform="translate(1180.2 0)"><use href="#k0"/><text y="7.6">0</text></g>
<g id="a17-16" transform="translate(1230.5 0)"><use href="#k0"/><text y="7.6">0</text></g>
<g id="a17-17" transform="translate(1280.8 0)"><use href="#k1"/><text y="7.6">1</text></g>
<g id="a17-18" transform="translate(1331.1 0)"><use href="#k3"/><text y="7.6">3</text></g>
<g id="a17-19" transform="translate(1381.5 0)"><use href="#k2"/><text y="7.6">2</text></g>
</g>
<g id="L18" transform="translate(0 1225)">
<g id="a18-0" transform="translate(425.3 0)"><use href="#k3"/><text y="7.6">3</text></g>
<g id="a18-1" transform="translate(475.6 0)"><use href="#k2"/><text y="7.6">2</text></g>
<g id="a18-2" transform="translate(525.9 0)"><use href="#k3"/><text y="7.6">3</text></g>
<g id="a18-3" transform="translate(576.3 0)"><use href="#k0"/><text y="7.6">0</text></g>
<g id="a18-4" transform="translate(626.6 0)"><use href="#k0"/><text y="7.6">0</text></g>
<g id="a18-5" transform="translate(676.9 0)"><use href="#k1"/><text y="7.6">1</text></g>
<g id="a18-6" transform="translate(727.2 0)"><use href="#k0"/><text y="7.6">0</text></g>
<g id="a18-7" transform="translate(777.6 0)"><use href="#k3"/><text y="7.6">3</text></g>
<g id="a18-8" transform="translate(827.9 0)"><use href="#k1"/><text y="7.6">1</text></g>
<g id="a18-9" transform="translate(878.2 0)"><use href="#k3"/><text y="7.6">3</text></g>
<g id="a18-10" transform="translate(928.5 0)"><use href="#k0"/><text y="7.6">0</text></g>
<g id="a18-11" transform="translate(978.9 0)"><use href="#k3"/><text y="7.6">3</text></g>
<g id="a18-12" transform="translate(1029.2 0)"><use href="#k2"/><text y="7.6">2</text></g>
<g id="a18-13" transform="translate(1079.5 0)"><use href="#k1"/><text y="7.6">1</text></g>
<g id="a18-14" transform="translate(1129.8 0)"><use href="#k0"/><text y="7.6">0</text></g>
<g id="a18-15" transform="translate(1180.2 0)"><use href="#k2"/><text y="7.6">2</text></g>
<g id="a18-16" transform="translate(1230.5 0)"><use href="#k0"/><text y="7.6">0</text></g>
<g id="a18-17" transform="translate(1280.8 0)"><use href="#k0"/><text y="7.6">0</text></g>
<g id="a18-18" transform="translate(1331.1 0)"><use href="#k1"/><text y="7.6">1</text></g>
<g id="a18-19" transform="translate(1381.5 0)"><use href="#k1"/><text y="7.6">1</text></g>
</g>
<g id="L19" transform="translate(0 1280)">
<g id="a19-0" transform="translate(425.3 0)"><use href="#k0"/><text y="7.6">0</text></g>
<g id="a19-1" transform="translate(475.6 0)"><use href="#k2"/><text y="7.6">2</text></g>
<g id="a19-2" transform="translate(525.9 0)"><use href="#k0"/><text y="7.6">0</text></g>
<g id="a19-3" transform="translate(576.3 0)"><use href="#k0"/><text y="7.6">0</text></g>
<g id="a19-4" transform="translate(626.6 0)"><use href="#k0"/><text y="7.6">0</text></g>
<g id="a19-5" transform="translate(676.9 0)"><use href="#k2"/><text y="7.6">2</text></g>
<g id="a19-6" transform="translate(727.2 0)"><use href="#k0"/><text y="7.6">0</text></g>
<g id="a19-7" transform="translate(777.6 0)"><use href="#k1"/><text y="7.6">1</text></g>
<g id="a19-8" transform="translate(827.9 0)"><use href="#k1"/><text y="7.6">1</text></g>
<g id="a19-9" transform="translate(878.2 0)"><use href="#k2"/><text y="7.6">2</text></g>
<g id="a19-10" transform="translate(928.5 0)"><use href="#k1"/><text y="7.6">1</text></g>
<g id="a19-11" transform="translate(978.9 0)"><use href="#k0"/><text y="7.6">0</text></g>
<g id="a19-12" transform="translate(1029.2 0)"><use href="#k1"/><text y="7.6">1</text></g>
<g id="a19-13" transform="translate(1079.5 0)"><use href="#k1"/><text y="7.6">1</text></g>
<g id="a19-14" transform="translate(1129.8 0)"><use href="#k2"/><text y="7.6">2</text></g>
<g id="a19-15" transform="translate(1180.2 0)"><use href="#k0"/><text y="7.6">0</text></g>
<g id="a19-16" transform="translate(1230.5 0)"><use href="#k3"/><text y="7.6">3</text></g>
<g id="a19-17" transform="translate(1280.8 0)"><use href="#k0"/><text y="7.6">0</text></g>
<g id="a19-18" transform="translate(1331.1 0)"><use href="#k1"/><text y="7.6">1</text></g>
<g id="a19-19" transform="translate(1381.5 0)"><use href="#k1"/><text y="7.6">1</text></g>
</g>
</g>
<g id="right">
<g id="R0" transform="translate(0 235)">
<use id="b0-4" href="#k2" x="1894.8"/><use id="b0-5" href="#k2" x="1945.1"/><use id="b0-17" href="#k2" x="2549"/><use id="b0-18" href="#k2" x="2599.3"/><use id="b0-19" href="#k2" x="2649.7"/>
</g>
<g id="R1" transform="translate(0 290)">
<use id="b1-5" href="#k2" x="1945.1"/><use id="b1-12" href="#k2" x="2297.4"/><use id="b1-13" href="#k2" x="2347.7"/><use id="b1-15" href="#k2" x="2448.4"/><use id="b1-16" href="#k2" x="2498.7"/><use id="b1-17" href="#k2" x="2549"/><use id="b1-18" href="#k2" x="2599.3"/>
</g>
<g id="R2" transform="translate(0 345)">
<use id="b2-0" href="#k2" x="1693.5"/><use id="b2-3" href="#k2" x="1844.5"/><use id="b2-4" href="#k2" x="1894.8"/><use id="b2-5" href="#k2" x="1945.1"/><use id="b2-9" href="#k2" x="2146.4"/><use id="b2-10" href="#k2" x="2196.7"/><use id="b2-11" href="#k2" x="2247.1"/><use id="b2-12" href="#k2" x="2297.4"/><use id="b2-15" href="#k2" x="2448.4"/><use id="b2-16" href="#k2" x="2498.7"/><use id="b2-17" href="#k2" x="2549"/><use id="b2-18" href="#k2" x="2599.3"/>
</g>
<g id="R3" transform="translate(0 400)">
<use id="b3-0" href="#k2" x="1693.5"/><use id="b3-1" href="#k2" x="1743.8"/><use id="b3-2" href="#k2" x="1794.1"/><use id="b3-3" href="#k2" x="1844.5"/><use id="b3-4" href="#k2" x="1894.8"/><use id="b3-5" href="#k2" x="1945.1"/><use id="b3-6" href="#k2" x="1995.4"/><use id="b3-7" href="#k2" x="2045.8"/><use id="b3-8" href="#k2" x="2096.1"/><use id="b3-9" href="#k2" x="2146.4"/><use id="b3-10" href="#k2" x="2196.7"/><use id="b3-12" href="#k2" x="2297.4"/><use id="b3-13" href="#k2" x="2347.7"/><use id="b3-14" href="#k2" x="2398"/><use id="b3-15" href="#k2" x="2448.4"/><use id="b3-16" href="#k2" x="2498.7"/><use id="b3-17" href="#k2" x="2549"/><use id="b3-18" href="#k2" x="2599.3"/>
</g>
<g id="R4" transform="translate(0 455)">
<use id="b4-0" href="#k2" x="1693.5"/><use id="b4-1" href="#k2" x="1743.8"/><use id="b4-2" href="#k2" x="1794.1"/><use id="b4-3" href="#k2" x="1844.5"/><use id="b4-5" href="#k2" x="1945.1"/><use id="b4-6" href="#k2" x="1995.4"/><use id="b4-11" href="#k2" x="2247.1"/><use id="b4-12" href="#k2" x="2297.4"/><use id="b4-13" href="#k2" x="2347.7"/><use id="b4-14" href="#k2" x="2398"/><use id="b4-15" href="#k2" x="2448.4"/><use id="b4-16" href="#k2" x="2498.7"/><use id="b4-17" href="#k2" x="2549"/><use id="b4-18" href="#k2" x="2599.3"/>
</g>
<g id="R5" transform="translate(0 510)">
<use id="b5-0" href="#k2" x="1693.5"/><use id="b5-1" href="#k2" x="1743.8"/><use id="b5-2" href="#k2" x="1794.1"/><use id="b5-3" href="#k2" x="1844.5"/><use id="b5-4" href="#k2" x="1894.8"/><use id="b5-6" href="#k2" x="1995.4"/><use id="b5-7" href="#k2" x="2045.8"/><use id="b5-11" href="#k2" x="2247.1"/><use id="b5-15" href="#k2" x="2448.4"/><use id="b5-16" href="#k2" x="2498.7"/><use id="b5-17" href="#k2" x="2549"/><use id="b5-18" href="#k2" x="2599.3"/>
</g>
<g id="R6" transform="translate(0 565)">
<use id="b6-0" href="#k2" x="1693.5"/><use id="b6-1" href="#k2" x="1743.8"/><use id="b6-2" href="#k2" x="1794.1"/><use id="b6-3" href="#k2" x="1844.5"/><use id="b6-4" href="#k2" x="1894.8"/><use id="b6-5" href="#k2" x="1945.1"/><use id="b6-6" href="#k2" x="1995.4"/><use id="b6-9" href="#k2" x="2146.4"/><use id="b6-13" href="#k2" x="2347.7"/><use id="b6-14" href="#k2" x="2398"/><use id="b6-15" href="#k2" x="2448.4"/><use id="b6-16" href="#k2" x="2498.7"/>
</g>
<g id="R7" transform="translate(0 620)">
<use id="b7-0" href="#k2" x="1693.5"/><use id="b7-1" href="#k2" x="1743.8"/><use id="b7-2" href="#k2" x="1794.1"/><use id="b7-3" href="#k2" x="1844.5"/><use id="b7-4" href="#k2" x="1894.8"/><use id="b7-8" href="#k2" x="2096.1"/><use id="b7-9" href="#k2" x="2146.4"/><use id="b7-14" href="#k2" x="2398"/><use id="b7-15" href="#k2" x="2448.4"/><use id="b7-16" href="#k2" x="2498.7"/><use id="b7-17" href="#k2" x="2549"/><use id="b7-18" href="#k2" x="2599.3"/>
</g>
<g id="R8" transform="translate(0 675)">
<use id="b8-0" href="#k2" x="1693.5"/><use id="b8-2" href="#k2" x="1794.1"/><use id="b8-3" href="#k2" x="1844.5"/><use id="b8-4" href="#k2" x="1894.8"/><use id="b8-8" href="#k2" x="2096.1"/><use id="b8-9" href="#k2" x="2146.4"/><use id="b8-10" href="#k2" x="2196.7"/><use id="b8-14" href="#k2" x="2398"/><use id="b8-15" href="#k2" x="2448.4"/><use id="b8-16" href="#k2" x="2498.7"/><use id="b8-17" href="#k2" x="2549"/><use id="b8-18" href="#k2" x="2599.3"/><use id="b8-19" href="#k2" x="2649.7"/>
</g>
<g id="R9" transform="translate(0 730)">
<use id="b9-3" href="#k2" x="1844.5"/><use id="b9-4" href="#k2" x="1894.8"/><use id="b9-6" href="#k2" x="1995.4"/><use id="b9-11" href="#k2" x="2247.1"/><use id="b9-12" href="#k2" x="2297.4"/><use id="b9-14" href="#k2" x="2398"/><use id="b9-19" href="#k2" x="2649.7"/>
</g>
<g id="R10" transform="translate(0 785)">
<use id="b10-5" href="#k2" x="1945.1"/><use id="b10-6" href="#k2" x="1995.4"/><use id="b10-7" href="#k2" x="2045.8"/><use id="b10-10" href="#k2" x="2196.7"/><use id="b10-11" href="#k2" x="2247.1"/><use id="b10-12" href="#k2" x="2297.4"/><use id="b10-13" href="#k2" x="2347.7"/><use id="b10-14" href="#k2" x="2398"/><use id="b10-16" href="#k2" x="2498.7"/><use id="b10-18" href="#k2" x="2599.3"/><use id="b10-19" href="#k2" x="2649.7"/>
</g>
<g id="R11" transform="translate(0 840)">
<use id="b11-4" href="#k2" x="1894.8"/><use id="b11-5" href="#k2" x="1945.1"/><use id="b11-6" href="#k2" x="1995.4"/><use id="b11-7" href="#k2" x="2045.8"/><use id="b11-8" href="#k2" x="2096.1"/><use id="b11-11" href="#k2" x="2247.1"/><use id="b11-12" href="#k2" x="2297.4"/><use id="b11-13" href="#k2" x="2347.7"/><use id="b11-14" href="#k2" x="2398"/><use id="b11-15" href="#k2" x="2448.4"/><use id="b11-16" href="#k2" x="2498.7"/><use id="b11-17" href="#k2" x="2549"/><use id="b11-18" href="#k2" x="2599.3"/>
</g>
<g id="R12" transform="translate(0 895)">
<use id="b12-0" href="#k2" x="1693.5"/><use id="b12-1" href="#k2" x="1743.8"/><use id="b12-2" href="#k2" x="1794.1"/><use id="b12-3" href="#k2" x="1844.5"/><use id="b12-4" href="#k2" x="1894.8"/><use id="b12-7" href="#k2" x="2045.8"/><use id="b12-8" href="#k2" x="2096.1"/><use id="b12-9" href="#k2" x="2146.4"/><use id="b12-10" href="#k2" x="2196.7"/><use id="b12-12" href="#k2" x="2297.4"/><use id="b12-13" href="#k2" x="2347.7"/><use id="b12-16" href="#k2" x="2498.7"/><use id="b12-17" href="#k2" x="2549"/><use id="b12-18" href="#k2" x="2599.3"/>
</g>
<g id="R13" transform="translate(0 950)">
<use id="b13-0" href="#k2" x="1693.5"/><use id="b13-1" href="#k2" x="1743.8"/><use id="b13-2" href="#k2" x="1794.1"/><use id="b13-4" href="#k2" x="1894.8"/><use id="b13-5" href="#k2" x="1945.1"/><use id="b13-8" href="#k2" x="2096.1"/><use id="b13-9" href="#k2" x="2146.4"/><use id="b13-10" href="#k2" x="2196.7"/><use id="b13-13" href="#k2" x="2347.7"/><use id="b13-14" href="#k2" x="2398"/><use id="b13-15" href="#k2" x="2448.4"/><use id="b13-17" href="#k2" x="2549"/><use id="b13-18" href="#k2" x="2599.3"/><use id="b13-19" href="#k2" x="2649.7"/>
</g>
<g id="R14" transform="translate(0 1005)">
<use id="b14-0" href="#k2" x="1693.5"/><use id="b14-1" href="#k2" x="1743.8"/><use id="b14-2" href="#k2" x="1794.1"/><use id="b14-3" href="#k2" x="1844.5"/><use id="b14-4" href="#k2" x="1894.8"/><use id="b14-5" href="#k2" x="1945.1"/><use id="b14-6" href="#k2" x="1995.4"/><use id="b14-7" href="#k2" x="2045.8"/><use id="b14-8" href="#k2" x="2096.1"/><use id="b14-9" href="#k2" x="2146.4"/><use id="b14-10" href="#k2" x="2196.7"/><use id="b14-11" href="#k2" x="2247.1"/><use id="b14-12" href="#k2" x="2297.4"/><use id="b14-14" href="#k2" x="2398"/><use id="b14-15" href="#k2" x="2448.4"/><use id="b14-17" href="#k2" x="2549"/>
</g>
<g id="R15" transform="translate(0 1060)">
<use id="b15-0" href="#k2" x="1693.5"/><use id="b15-1" href="#k2" x="1743.8"/><use id="b15-2" href="#k2" x="1794.1"/><use id="b15-3" href="#k2" x="1844.5"/><use id="b15-7" href="#k2" x="2045.8"/><use id="b15-8" href="#k2" x="2096.1"/><use id="b15-10" href="#k2" x="2196.7"/><use id="b15-12" href="#k2" x="2297.4"/><use id="b15-13" href="#k2" x="2347.7"/><use id="b15-14" href="#k2" x="2398"/><use id="b15-15" href="#k2" x="2448.4"/><use id="b15-18" href="#k2" x="2599.3"/><use id="b15-19" href="#k2" x="2649.7"/>
</g>
<g id="R16" transform="translate(0 1115)">
<use id="b16-0" href="#k2" x="1693.5"/><use id="b16-1" href="#k2" x="1743.8"/><use id="b16-2" href="#k2" x="1794.1"/><use id="b16-3" href="#k2" x="1844.5"/><use id="b16-4" href="#k2" x="1894.8"/><use id="b16-5" href="#k2" x="1945.1"/><use id="b16-6" href="#k2" x="1995.4"/><use id="b16-10" href="#k2" x="2196.7"/><use id="b16-11" href="#k2" x="2247.1"/><use id="b16-12" href="#k2" x="2297.4"/><use id="b16-13" href="#k2" x="2347.7"/><use id="b16-14" href="#k2" x="2398"/><use id="b16-15" href="#k2" x="2448.4"/><use id="b16-17" href="#k2" x="2549"/><use id="b16-18" href="#k2" x="2599.3"/><use id="b16-19" href="#k2" x="2649.7"/>
</g>
<g id="R17" transform="translate(0 1170)">
<use id="b17-1" href="#k2" x="1743.8"/><use id="b17-2" href="#k2" x="1794.1"/><use id="b17-3" href="#k2" x="1844.5"/><use id="b17-5" href="#k2" x="1945.1"/><use id="b17-6" href="#k2" x="1995.4"/><use id="b17-7" href="#k2" x="2045.8"/><use id="b17-9" href="#k2" x="2146.4"/><use id="b17-10" href="#k2" x="2196.7"/><use id="b17-12" href="#k2" x="2297.4"/><use id="b17-13" href="#k2" x="2347.7"/><use id="b17-15" href="#k2" x="2448.4"/><use id="b17-16" href="#k2" x="2498.7"/><use id="b17-17" href="#k2" x="2549"/><use id="b17-19" href="#k2" x="2649.7"/>
</g>
<g id="R18" transform="translate(0 1225)">
<use id="b18-1" href="#k2" x="1743.8"/><use id="b18-2" href="#k2" x="1794.1"/><use id="b18-3" href="#k2" x="1844.5"/><use id="b18-4" href="#k2" x="1894.8"/><use id="b18-6" href="#k2" x="1995.4"/><use id="b18-8" href="#k2" x="2096.1"/><use id="b18-13" href="#k2" x="2347.7"/><use id="b18-16" href="#k2" x="2498.7"/><use id="b18-17" href="#k2" x="2549"/><use id="b18-18" href="#k2" x="2599.3"/><use id="b18-19" href="#k2" x="2649.7"/>
</g>
<g id="R19" transform="translate(0 1280)">
<use id="b19-1" href="#k2" x="1743.8"/><use id="b19-2" href="#k2" x="1794.1"/><use id="b19-3" href="#k2" x="1844.5"/><use id="b19-4" href="#k2" x="1894.8"/><use id="b19-6" href="#k2" x="1995.4"/><use id="b19-7" href="#k2" x="2045.8"/><use id="b19-8" href="#k2" x="2096.1"/><use id="b19-12" href="#k2" x="2297.4"/><use id="b19-13" href="#k2" x="2347.7"/><use id="b19-17" href="#k2" x="2549"/><use id="b19-18" href="#k2" x="2599.3"/><use id="b19-19" href="#k2" x="2649.7"/>
</g>
</g>
</svg>
